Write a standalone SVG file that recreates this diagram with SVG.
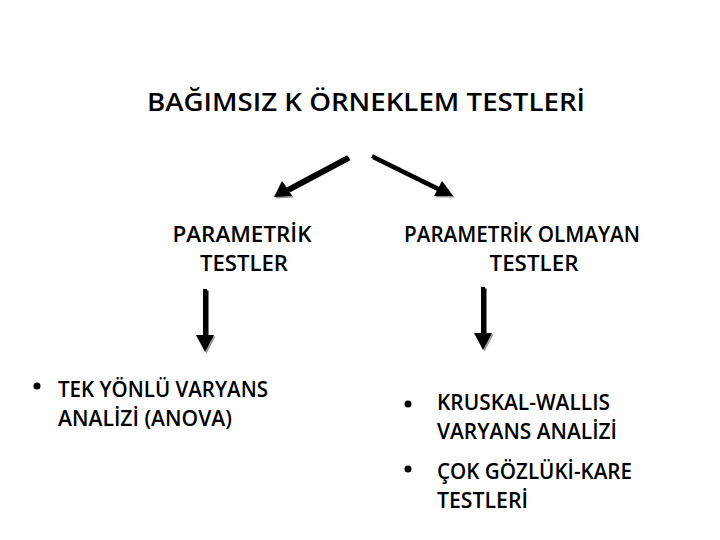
<svg xmlns="http://www.w3.org/2000/svg" xmlns:xlink="http://www.w3.org/1999/xlink" width="720" height="540" viewBox="0 0 720 540">
<style>
text{font-family:"Open Sans","Noto Sans","Liberation Sans",sans-serif;fill:#000;font-weight:600}
.t{font-size:25.5px}
.n{font-size:21px}
.c{text-anchor:middle}
.ln{stroke:#000;stroke-width:4;fill:none}
.sh .ln{stroke:#999}
.sh polygon{fill:#999}
</style>
<defs>
<g id="arrows">
<line class="ln" x1="348" y1="157" x2="286" y2="190"/>
<polygon points="274,197 282,181 292,196"/>
<line class="ln" x1="372" y1="156" x2="441" y2="190"/>
<polygon points="453,196 434,196 442,181"/>
<line class="ln" x1="205" y1="289" x2="205" y2="338"/>
<polygon points="205,352 196,335 214,335"/>
<line class="ln" x1="483" y1="287" x2="483" y2="336"/>
<polygon points="483,350 474,333 492,333"/>
</g>
</defs>
<rect width="720" height="540" fill="#fff"/>
<g id="connectors">
<use xlink:href="#arrows" href="#arrows" class="sh" transform="translate(1.5,1.5)" style="fill:#999"/>
<use xlink:href="#arrows" href="#arrows" style="fill:#000"/>
</g>
<g id="title"><text class="t" x="147" y="111" textLength="438" lengthAdjust="spacingAndGlyphs">BAĞIMSIZ K ÖRNEKLEM TESTLERİ</text></g>
<g id="param">
<text class="n c" x="242" y="242" textLength="139" lengthAdjust="spacingAndGlyphs">PARAMETRİK</text>
<text class="n c" x="244" y="271" textLength="88" lengthAdjust="spacingAndGlyphs">TESTLER</text>
</g>
<g id="nonparam">
<text class="n c" x="522" y="242" textLength="236" lengthAdjust="spacingAndGlyphs">PARAMETRİK OLMAYAN</text>
<text class="n c" x="534" y="271" textLength="89" lengthAdjust="spacingAndGlyphs">TESTLER</text>
</g>
<g id="anova">
<circle cx="37" cy="386" r="3.5"/>
<text class="n" x="58" y="397" textLength="210" lengthAdjust="spacingAndGlyphs">TEK YÖNLÜ VARYANS</text>
<text class="n" x="58" y="426" textLength="174" lengthAdjust="spacingAndGlyphs">ANALİZİ (ANOVA)</text>
</g>
<g id="kruskal">
<circle cx="408" cy="404" r="3.5"/>
<text class="n" x="437" y="410" textLength="173" lengthAdjust="spacingAndGlyphs">KRUSKAL-WALLIS</text>
<text class="n" x="437" y="439" textLength="180" lengthAdjust="spacingAndGlyphs">VARYANS ANALİZİ</text>
</g>
<g id="chisq">
<circle cx="408" cy="469" r="3.5"/>
<text class="n" x="437" y="479" textLength="195" lengthAdjust="spacingAndGlyphs">ÇOK GÖZLÜKİ-KARE</text>
<text class="n" x="437" y="508" textLength="91" lengthAdjust="spacingAndGlyphs">TESTLERİ</text>
</g>
</svg>
